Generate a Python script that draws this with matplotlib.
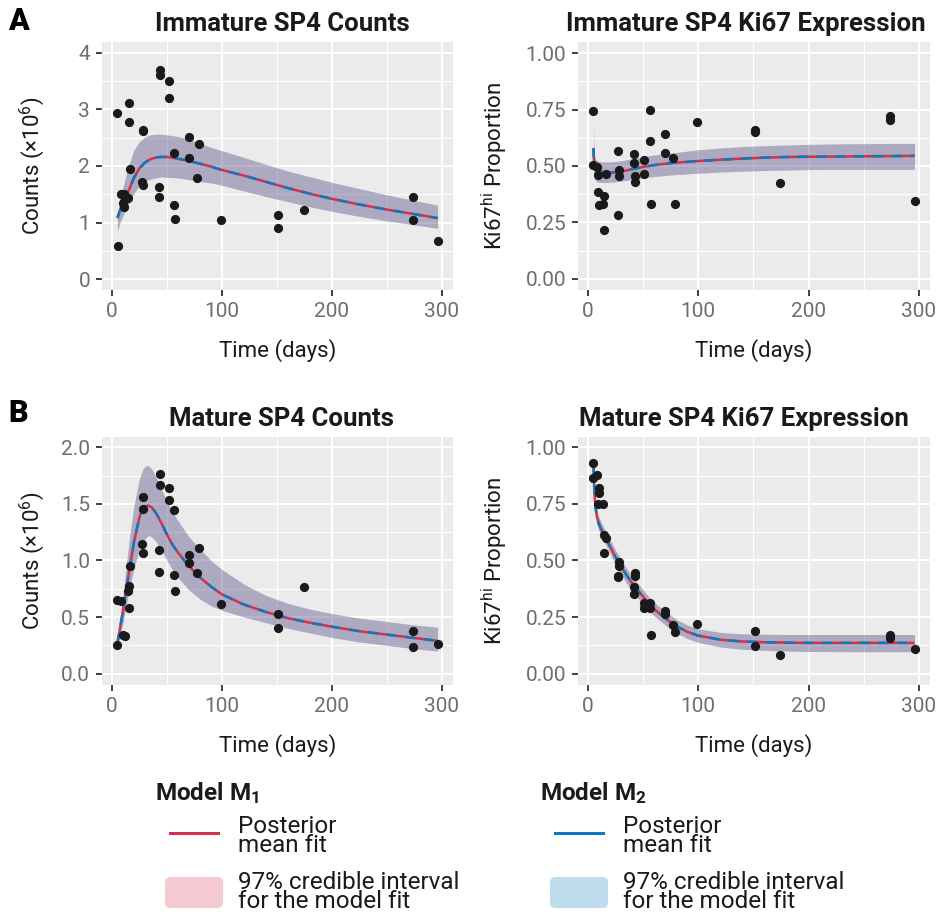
import matplotlib
matplotlib.use("Agg")
import matplotlib.pyplot as plt
from matplotlib.lines import Line2D
from matplotlib.patches import FancyBboxPatch
from matplotlib.ticker import MultipleLocator

FONT = ['Roboto', 'DejaVu Sans']
plt.rcParams['font.family'] = FONT
plt.rcParams['mathtext.fontset'] = 'custom'
plt.rcParams['mathtext.rm'] = 'Roboto'
plt.rcParams['mathtext.bf'] = 'Roboto:bold'
plt.rcParams['mathtext.default'] = 'regular'

# ---------------- data ----------------
# Immature SP4 counts (x10^6)
imm_cnt_t = [5, 5.5, 8.5, 11, 11.5, 14.6, 10.5, 11, 15.4, 15.4, 16.6, 28, 28, 27.3, 28.5,
             43.6, 43.6, 42.4, 42.4, 51.8, 51.8, 56.3, 56.3, 57.5, 70.5, 70.5, 79.6, 77.5,
             98.7, 151.4, 151.4, 174.4, 273.4, 273.4, 296]
imm_cnt_y = [2.94, 0.59, 1.51, 1.50, 1.42, 1.43, 1.35, 1.27, 3.12, 2.77, 1.95, 2.64, 2.61, 1.71, 1.66,
             3.69, 3.60, 1.63, 1.45, 3.51, 3.20, 2.23, 1.31, 1.06, 2.51, 2.14, 2.38, 1.79,
             1.05, 1.13, 0.91, 1.23, 1.46, 1.04, 0.67]
imm_cnt_fit_t = [5, 7, 10, 13, 16, 20, 25, 30, 35, 40, 45, 50, 60, 70, 80, 90, 100,
                 120, 140, 160, 180, 200, 225, 250, 275, 296]
imm_cnt_mean = [1.08, 1.20, 1.33, 1.45, 1.60, 1.79, 1.96, 2.06, 2.12, 2.15, 2.16, 2.16, 2.13,
                2.09, 2.04, 1.99, 1.93, 1.83, 1.72, 1.61, 1.51, 1.42, 1.32, 1.23, 1.15, 1.08]
imm_cnt_lo = [0.85, 0.98, 1.12, 1.24, 1.37, 1.52, 1.65, 1.73, 1.77, 1.79, 1.81, 1.80, 1.79,
              1.76, 1.73, 1.70, 1.66, 1.56, 1.46, 1.37, 1.28, 1.20, 1.11, 1.03, 0.96, 0.90]
imm_cnt_hi = [1.12, 1.38, 1.62, 1.85, 2.05, 2.28, 2.43, 2.51, 2.55, 2.56, 2.56, 2.55, 2.52,
              2.47, 2.40, 2.33, 2.27, 2.15, 2.03, 1.91, 1.81, 1.71, 1.60, 1.49, 1.39, 1.31]

# Immature SP4 Ki67hi proportion
imm_ki_t = [4.9, 4.6, 7.9, 9.4, 9.4, 10, 14, 14.9, 16.1, 14.6, 27.6, 28, 28, 27,
            41.6, 41.6, 42.8, 42.8, 50.7, 50.7, 55.9, 55.9, 57, 70.1, 70.1, 76.8, 79,
            99, 151, 151, 174, 273.6, 273.6, 296]
imm_ki_y = [0.742, 0.503, 0.496, 0.459, 0.383, 0.329, 0.332, 0.369, 0.466, 0.214, 0.565, 0.481, 0.457, 0.283,
            0.555, 0.515, 0.454, 0.428, 0.527, 0.466, 0.749, 0.612, 0.330, 0.642, 0.556, 0.535, 0.332,
            0.695, 0.661, 0.649, 0.425, 0.723, 0.702, 0.345]
imm_ki_fit_t = [5, 5.5, 6, 7, 8, 10, 13, 16, 20, 25, 30, 40, 50, 60, 70, 80, 100,
                120, 140, 160, 180, 200, 225, 250, 275, 296]
imm_ki_mean = [0.58, 0.52, 0.50, 0.49, 0.485, 0.478, 0.474, 0.472, 0.471, 0.472, 0.475, 0.486, 0.496,
               0.504, 0.51, 0.515, 0.522, 0.528, 0.533, 0.537, 0.54, 0.541, 0.542, 0.543, 0.544, 0.545]
imm_ki_lo = [0.50, 0.45, 0.44, 0.435, 0.43, 0.428, 0.427, 0.427, 0.428, 0.43, 0.433, 0.44, 0.447,
             0.453, 0.458, 0.462, 0.468, 0.473, 0.477, 0.48, 0.482, 0.484, 0.485, 0.485, 0.485, 0.485]
imm_ki_hi = [0.70, 0.56, 0.54, 0.53, 0.525, 0.52, 0.518, 0.518, 0.518, 0.52, 0.523, 0.532, 0.541,
             0.549, 0.555, 0.56, 0.572, 0.58, 0.586, 0.59, 0.593, 0.596, 0.598, 0.599, 0.60, 0.60]

# Mature SP4 counts (x10^6)
mat_cnt_t = [4.8, 7.9, 4.8, 10.3, 11.5, 14.5, 15.4, 15.4, 16.6, 28.5, 28.5, 27.6, 28.5,
             43.6, 43.6, 42.7, 42.7, 51.8, 51.8, 56.6, 56.6, 57.5, 70.5, 70.5, 79.6, 77.5,
             99.3, 151.4, 151.4, 174.4, 273.4, 273.4, 296]
mat_cnt_y = [0.655, 0.640, 0.254, 0.339, 0.330, 0.729, 0.776, 0.584, 0.950, 1.563, 1.457, 1.148, 1.062,
             1.767, 1.664, 1.094, 0.897, 1.637, 1.534, 1.445, 0.870, 0.729, 1.044, 0.973, 1.106, 0.885,
             0.617, 0.528, 0.401, 0.761, 0.378, 0.239, 0.265]
mat_cnt_fit_t = [5, 7, 10, 13, 16, 20, 25, 28, 30, 33, 36, 40, 45, 50, 55, 60, 70, 80, 90, 100,
                 120, 140, 160, 180, 200, 225, 250, 275, 296]
mat_cnt_mean = [0.27, 0.38, 0.55, 0.74, 0.92, 1.16, 1.38, 1.455, 1.475, 1.485, 1.47, 1.42, 1.33, 1.23,
                1.14, 1.07, 0.95, 0.85, 0.77, 0.70, 0.61, 0.545, 0.49, 0.45, 0.415, 0.375, 0.345, 0.315, 0.29]
mat_cnt_lo = [0.24, 0.32, 0.45, 0.60, 0.75, 0.93, 1.10, 1.16, 1.19, 1.22, 1.21, 1.17, 1.09, 1.00,
              0.92, 0.85, 0.74, 0.66, 0.60, 0.56, 0.50, 0.45, 0.40, 0.36, 0.32, 0.28, 0.25, 0.22, 0.20]
mat_cnt_hi = [0.30, 0.45, 0.68, 0.95, 1.20, 1.48, 1.72, 1.80, 1.83, 1.84, 1.81, 1.74, 1.63, 1.52,
              1.43, 1.35, 1.21, 1.10, 1.00, 0.92, 0.79, 0.69, 0.62, 0.57, 0.53, 0.49, 0.46, 0.43, 0.41]

# Mature SP4 Ki67hi proportion
mat_ki_t = [4.9, 4.9, 7.9, 10, 10, 9.4, 14, 14.9, 16.1, 14.9, 28, 28, 27, 27.6,
            42.5, 42.5, 41.6, 41.6, 50.7, 50.7, 55.9, 55.9, 57, 70.1, 70.1, 76.8, 79,
            99, 151, 151, 174, 273.6, 273.6, 296]
mat_ki_y = [0.929, 0.866, 0.878, 0.819, 0.796, 0.749, 0.748, 0.612, 0.600, 0.535, 0.494, 0.476, 0.431, 0.425,
            0.444, 0.431, 0.383, 0.350, 0.310, 0.288, 0.310, 0.288, 0.170, 0.276, 0.265, 0.217, 0.184,
            0.221, 0.187, 0.122, 0.084, 0.170, 0.158, 0.109]
mat_ki_fit_t = [5, 5.5, 6, 7, 8, 10, 13, 16, 20, 25, 30, 35, 40, 45, 50, 55, 60, 70, 80, 90, 100,
                120, 140, 160, 180, 200, 250, 296]
mat_ki_mean = [0.92, 0.85, 0.79, 0.73, 0.695, 0.66, 0.628, 0.60, 0.563, 0.515, 0.475, 0.435, 0.40, 0.37,
               0.34, 0.31, 0.285, 0.245, 0.21, 0.185, 0.168, 0.15, 0.142, 0.139, 0.137, 0.136, 0.136, 0.136]
mat_ki_lo = [0.90, 0.83, 0.765, 0.70, 0.665, 0.63, 0.598, 0.57, 0.533, 0.48, 0.44, 0.40, 0.365, 0.335,
             0.305, 0.28, 0.255, 0.215, 0.18, 0.155, 0.138, 0.118, 0.108, 0.103, 0.10, 0.098, 0.097, 0.097]
mat_ki_hi = [0.93, 0.87, 0.815, 0.76, 0.725, 0.69, 0.658, 0.63, 0.593, 0.545, 0.505, 0.465, 0.43, 0.40,
             0.37, 0.34, 0.315, 0.275, 0.24, 0.215, 0.198, 0.182, 0.176, 0.174, 0.173, 0.173, 0.173, 0.173]

x_ticks = [0, 100, 200, 300]

# ---------------- style ----------------
RED = '#D7304E'
BLUE = '#0E78BC'
RED_FILL = '#D72B4B'
BLUE_FILL = '#0377BB'
BG = '#EBEBEB'
TICK_LAB = '#6E6E6E'

W, H = 940, 917
fig = plt.figure(figsize=(W / 100, H / 100), dpi=100)


def px_rect(x0, y0, x1, y1):
    return [x0 / W, 1 - y1 / H, (x1 - x0) / W, (y1 - y0) / H]


def draw_panel(rect, t, y, ft, mean, lo, hi, ylim, yticks, ylabs, ylabel, title, title_x, ylab_x):
    ax = fig.add_axes(rect)
    ax.set_facecolor(BG)
    for s in ax.spines.values():
        s.set_visible(False)
    ax.set_xlim(-9, 310)
    ax.set_ylim(*ylim)
    ax.set_xticks(x_ticks)
    ax.set_xticklabels([str(v) for v in x_ticks])
    ax.set_yticks(yticks)
    ax.set_yticklabels(ylabs)
    ax.xaxis.set_minor_locator(MultipleLocator(50))
    ax.yaxis.set_minor_locator(MultipleLocator((yticks[1] - yticks[0]) / 2))
    ax.grid(which='major', color='white', lw=1.5)
    ax.grid(which='minor', color='white', lw=0.75)
    ax.set_axisbelow(True)
    ax.tick_params(which='major', length=4.5, width=1.3, color='#333333',
                   labelsize=15, labelcolor=TICK_LAB, pad=4)
    ax.tick_params(which='minor', length=0)

    # M1 and M2 posterior fits overlap almost exactly
    ax.fill_between(ft, lo, hi, color=RED_FILL, alpha=0.25, lw=0)
    ax.fill_between(ft, lo, hi, color=BLUE_FILL, alpha=0.25, lw=0)
    ax.plot(ft, mean, color=RED, lw=1.8, solid_capstyle='butt')
    ax.plot(ft, mean, color=BLUE, lw=1.8, dashes=(4, 3.5))
    ax.scatter(t, y, s=44, color='#1A1A1A', zorder=5, lw=0)

    ax.set_xlabel('Time (days)', fontsize=16, color='#1A1A1A')
    ax.xaxis.set_label_coords(0.5, -0.245)
    ax.xaxis.label.set_va('center')
    ax.set_ylabel(ylabel, fontsize=16, color='#1A1A1A')
    ax.yaxis.label.set_va('center')
    ax.yaxis.set_label_coords(ylab_x, 0.5)
    ax.text(title_x, 1.045, title, transform=ax.transAxes, ha='center', va='baseline',
            fontsize=18.5, fontweight='bold', color='#1A1A1A')
    return ax


cnt_lab = 'Counts (×10$^{6}$)'
ki_lab = 'Ki67$^{hi}$ Proportion'
prop_ticks = [0, 0.25, 0.5, 0.75, 1.0]
prop_labs = ['0.00', '0.25', '0.50', '0.75', '1.00']

draw_panel(px_rect(102, 42, 453, 290), imm_cnt_t, imm_cnt_y, imm_cnt_fit_t,
           imm_cnt_mean, imm_cnt_lo, imm_cnt_hi, (-0.19, 4.19), [0, 1, 2, 3, 4],
           ['0', '1', '2', '3', '4'], cnt_lab, 'Immature SP4 Counts', 0.514, -0.2)
draw_panel(px_rect(578, 42, 930, 290), imm_ki_t, imm_ki_y, imm_ki_fit_t,
           imm_ki_mean, imm_ki_lo, imm_ki_hi, (-0.05, 1.05), prop_ticks,
           prop_labs, ki_lab, 'Immature SP4 Ki67 Expression', 0.477, -0.236)
draw_panel(px_rect(102, 437, 453, 685), mat_cnt_t, mat_cnt_y, mat_cnt_fit_t,
           mat_cnt_mean, mat_cnt_lo, mat_cnt_hi, (-0.1, 2.09), [0, 0.5, 1.0, 1.5, 2.0],
           ['0.0', '0.5', '1.0', '1.5', '2.0'], cnt_lab, 'Mature SP4 Counts', 0.51, -0.2)
draw_panel(px_rect(578, 437, 930, 685), mat_ki_t, mat_ki_y, mat_ki_fit_t,
           mat_ki_mean, mat_ki_lo, mat_ki_hi, (-0.05, 1.045), prop_ticks,
           prop_labs, ki_lab, 'Mature SP4 Ki67 Expression', 0.47, -0.236)

# panel letters
fig.text(8 / W, 1 - 30 / H, 'A', fontsize=22, fontweight='heavy')
fig.text(8 / W, 1 - 422 / H, 'B', fontsize=22, fontweight='heavy')

# ---------------- legend ----------------
for title, lcol, fcol, x0 in [('Model M$_{1}$', RED, RED_FILL, 155), ('Model M$_{2}$', BLUE, BLUE_FILL, 540)]:
    fig.text(x0 / W, 1 - 800 / H, title, fontsize=17.5, fontweight='bold', color='#1A1A1A')
    fig.add_artist(Line2D([(x0 + 15) / W, (x0 + 63) / W], [1 - 833 / H, 1 - 833 / H],
                          color=lcol, lw=2.2, transform=fig.transFigure))
    fig.add_artist(FancyBboxPatch(((x0 + 10) / W, 1 - 908 / H), 58 / W, 31 / H,
                                  boxstyle='round,pad=0,rounding_size=0.006',
                                  transform=fig.transFigure, facecolor=fcol, alpha=0.25, lw=0))
    # va='baseline' on multi-line text anchors the last line
    fig.text((x0 + 83) / W, 1 - 852 / H, 'Posterior\nmean fit', fontsize=17.5, va='baseline',
             linespacing=0.78, color='#1A1A1A')
    fig.text((x0 + 83) / W, 1 - 908 / H, '97% credible interval\nfor the model fit', fontsize=17.5,
             va='baseline', linespacing=0.78, color='#1A1A1A')

fig.savefig('out.png', dpi=100)
